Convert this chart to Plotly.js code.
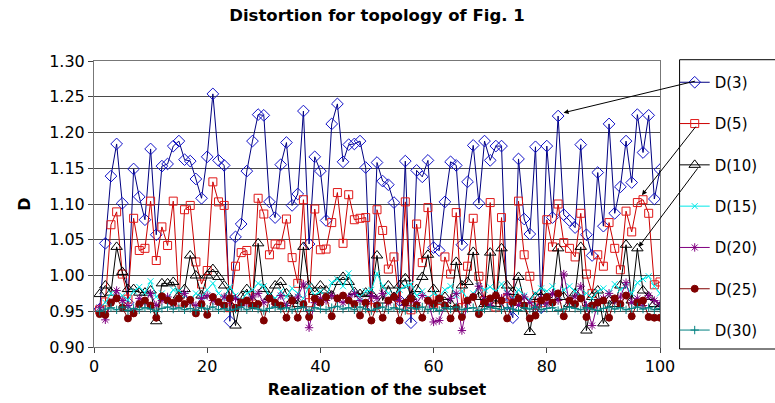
<!DOCTYPE html>
<html>
<head>
<meta charset="utf-8">
<script src="https://cdn.plot.ly/plotly-3.0.1.min.js"></script>
<style>html,body{margin:0;padding:0;background:#fff;}#chart{width:775px;height:403px;}</style>
</head>
<body>
<div id="chart"></div>
<script>
// Realization index 1..100
const realization = Array.from({length: 100}, (_, k) => k + 1);

const seriesNames = ["D(3)", "D(5)", "D(10)", "D(15)", "D(20)", "D(25)", "D(30)"];

const d3 = [0.953,1.045,1.139,1.184,1.101,0.962,1.149,1.110,1.078,1.177,
1.057,1.153,1.156,1.181,1.188,1.162,1.160,1.135,1.108,1.166,
1.254,1.161,1.154,0.936,1.054,1.072,1.146,1.188,1.225,1.224,
1.103,1.081,1.155,1.186,1.098,1.114,1.230,1.044,1.166,1.146,
1.077,1.212,1.240,1.159,1.183,1.184,1.188,1.151,0.958,1.158,
1.132,1.127,1.102,0.965,1.160,0.934,1.147,1.138,1.161,1.039,
1.035,1.103,1.159,1.154,1.043,1.131,1.182,1.101,1.188,1.161,
1.181,1.181,0.960,0.941,1.163,1.079,1.058,1.180,0.955,1.181,
1.081,1.223,1.085,1.077,1.067,1.183,1.057,1.028,1.144,1.069,
1.212,1.087,1.124,1.188,1.130,1.225,1.172,1.224,1.107,1.148];

const d5 = [0.952,0.963,1.071,1.089,1.002,0.967,1.080,1.035,1.038,1.104,
1.021,1.068,1.042,1.104,0.963,1.092,1.098,1.019,0.988,1.007,
1.131,1.103,1.098,0.955,1.013,1.032,1.035,0.960,1.108,1.086,
1.029,1.044,1.043,1.079,1.025,0.989,1.106,0.962,1.093,1.036,
1.037,1.074,1.116,1.045,1.113,1.078,1.080,1.081,0.955,1.092,
1.063,1.009,1.026,0.958,1.103,0.952,1.072,1.018,1.095,0.960,
0.965,1.026,1.002,1.088,0.955,1.013,1.080,0.999,0.965,1.102,
0.956,1.081,0.968,0.965,1.104,1.029,0.999,0.958,0.962,1.078,
1.040,1.100,1.046,1.038,1.026,1.087,1.002,0.975,1.029,1.013,
1.074,1.038,1.008,1.090,1.061,1.102,1.106,1.087,0.987,0.991];

const d10 = [0.974,0.986,0.976,1.040,1.005,0.981,0.981,0.976,0.976,0.979,
0.936,0.989,0.989,0.991,0.972,0.981,1.028,1.000,0.972,1.000,
1.009,0.998,0.986,0.975,0.930,0.970,0.981,0.965,1.045,0.981,
0.970,0.986,0.991,0.975,0.965,0.960,1.040,0.986,0.977,0.986,
0.979,0.972,0.991,0.998,0.991,0.977,0.974,0.976,0.974,1.028,
0.965,0.986,0.970,0.986,0.996,0.970,0.981,0.998,1.029,0.981,
0.965,0.970,0.960,1.019,0.986,0.991,1.033,0.970,0.960,1.032,
0.960,1.038,0.986,0.977,0.998,0.965,0.921,0.970,0.977,0.965,
0.970,1.038,0.970,0.960,0.975,1.040,0.923,0.970,0.979,0.933,
0.965,0.960,0.986,1.043,0.965,1.038,0.979,0.970,0.960,0.956];

const d15 = [0.955,0.962,0.975,0.968,0.972,0.966,0.978,0.984,0.976,0.992,
0.970,0.975,0.968,0.980,0.979,0.972,0.965,0.975,0.970,0.980,
0.989,0.975,0.968,0.984,0.972,0.965,0.975,0.980,0.989,0.985,
0.972,0.968,0.978,0.970,0.982,0.975,0.968,0.985,0.972,0.978,
0.970,0.990,0.995,0.985,1.003,0.975,0.970,0.978,0.980,1.003,
0.985,0.975,0.970,0.980,0.985,0.988,0.972,0.978,0.968,0.975,
0.970,0.980,0.985,0.972,0.978,0.968,0.975,0.985,0.980,0.984,
0.978,0.988,0.975,0.968,0.980,0.972,0.965,0.975,0.982,0.978,
0.985,0.972,0.980,0.985,0.978,0.970,0.975,0.968,0.978,0.982,
0.975,0.988,0.980,0.985,0.975,0.990,0.995,0.999,0.985,0.975];

const d20 = [0.955,0.938,0.962,0.979,0.965,0.958,0.950,0.968,0.962,0.975,
0.958,0.965,0.970,0.960,0.968,0.975,0.962,0.958,0.968,0.972,
0.965,0.960,0.970,0.965,0.968,0.958,0.962,0.970,0.975,0.962,
0.968,0.960,0.972,0.958,0.965,0.970,0.988,0.927,0.962,0.968,
0.965,0.972,0.968,0.962,0.970,0.975,0.965,0.960,0.972,0.968,
0.975,0.962,0.970,0.965,0.958,0.968,0.962,0.972,0.965,0.935,
0.937,0.958,0.968,0.975,0.923,0.962,0.970,0.985,0.965,0.958,
0.972,0.968,0.975,0.965,0.958,0.970,0.962,0.955,0.968,0.960,
0.975,0.965,1.002,0.962,0.970,0.985,0.958,0.930,0.962,0.968,
0.975,0.965,0.970,0.990,0.962,0.968,0.958,0.972,0.965,0.960];

const d25 = [0.946,0.945,0.962,0.968,0.955,0.940,0.947,0.960,0.965,0.958,
0.941,0.971,0.965,0.962,0.968,0.960,0.966,0.947,0.960,0.945,
0.970,0.963,0.958,0.968,0.955,0.962,0.965,0.958,0.960,0.937,
0.968,0.962,0.958,0.941,0.965,0.941,0.960,0.942,0.968,0.962,
0.970,0.943,0.968,0.972,0.965,0.960,0.944,0.962,0.937,0.958,
0.941,0.965,0.970,0.937,0.962,0.968,0.958,0.941,0.965,0.960,
0.968,0.958,0.940,0.955,0.942,0.965,0.970,0.946,0.962,0.968,
0.972,0.965,0.940,0.962,0.968,0.958,0.940,0.944,0.965,0.970,
0.962,0.975,0.943,0.965,0.960,0.968,0.942,0.958,0.962,0.965,
0.941,0.968,0.960,0.972,0.943,0.962,0.965,0.942,0.941,0.941];

const d30 = [0.950,0.953,0.955,0.952,0.956,0.951,0.954,0.952,0.955,0.953,
0.950,0.954,0.956,0.953,0.955,0.952,0.954,0.951,0.955,0.953,
0.956,0.952,0.954,0.951,0.953,0.956,0.952,0.955,0.953,0.951,
0.954,0.956,0.953,0.955,0.952,0.954,0.956,0.951,0.955,0.953,
0.952,0.955,0.957,0.953,0.955,0.952,0.956,0.953,0.951,0.954,
0.956,0.952,0.955,0.953,0.951,0.955,0.953,0.956,0.952,0.954,
0.951,0.955,0.953,0.956,0.952,0.954,0.955,0.951,0.953,0.956,
0.954,0.952,0.955,0.953,0.951,0.955,0.953,0.956,0.952,0.954,
0.955,0.951,0.953,0.956,0.954,0.952,0.955,0.953,0.951,0.954,
0.956,0.953,0.955,0.952,0.954,0.956,0.953,0.955,0.952,0.954];

const xTicks = [0, 20, 40, 60, 80, 100];
const yTicks = [0.90, 0.95, 1.00, 1.05, 1.10, 1.15, 1.20, 1.25, 1.30];

const styles = [
  {line: '#000080', marker: '#1010c8', symbol: 'diamond-open', size: 9},
  {line: '#cc0000', marker: '#e01818', symbol: 'square-open', size: 8},
  {line: '#000000', marker: '#000000', symbol: 'triangle-up-open', size: 10},
  {line: '#00e8e8', marker: '#00e8e8', symbol: 'x-thin-open', size: 6},
  {line: '#800080', marker: '#800080', symbol: 'asterisk-open', size: 7},
  {line: '#800000', marker: '#800000', symbol: 'circle', size: 7},
  {line: '#008080', marker: '#008080', symbol: 'cross-thin-open', size: 6}
];
const allSeries = [d3, d5, d10, d15, d20, d25, d30];

const traces = allSeries.map((vals, k) => ({
  x: realization,
  y: vals,
  name: seriesNames[k],
  legendgroup: 'g' + k,
  type: 'scatter',
  mode: 'lines+markers',
  line: {color: styles[k].line, width: 1},
  marker: {symbol: styles[k].symbol, size: styles[k].size, color: styles[k].marker,
           line: {color: styles[k].marker, width: 1}}
}));

const font = 'DejaVu Sans, Liberation Sans, Arial, sans-serif';

const layout = {
  width: 775, height: 403,
  margin: {l: 94, r: 103, t: 61, b: 56},
  paper_bgcolor: '#ffffff', plot_bgcolor: '#ffffff',
  showlegend: true,
  title: {text: 'Distortion for topology of Fig. 1', font: {family: font, size: 16.5, weight: 'bold', color: '#000'},
          x: 0.5, xref: 'paper', xanchor: 'center', y: 0.963, yref: 'container', yanchor: 'middle'},
  xaxis: {
    range: [0, 100], tickvals: xTicks, ticktext: xTicks.map(String),
    ticks: 'outside', ticklen: 5, tickcolor: '#444', showgrid: false, zeroline: false,
    showline: true, linecolor: '#777', mirror: true,
    tickfont: {family: font, size: 16, color: '#000'},
    title: {text: 'Realization of the subset', font: {family: font, size: 15.5, weight: 'bold', color: '#000'}, standoff: 8}
  },
  yaxis: {
    range: [0.90, 1.30], tickvals: yTicks, ticktext: yTicks.map(v => v.toFixed(2)),
    ticks: 'outside', ticklen: 5, tickcolor: '#444', showgrid: true, gridcolor: '#4a4a4a', gridwidth: 1,
    zeroline: false, showline: true, linecolor: '#777', mirror: true,
    tickfont: {family: font, size: 16, color: '#000'},
    title: {text: 'D', font: {family: font, size: 16, weight: 'bold', color: '#000'}, standoff: 14}
  },
  legend: {
    x: 1.026, xanchor: 'left', y: 0.9825, yanchor: 'top',
    font: {family: font, size: 15, color: '#000'},
    bgcolor: 'rgba(0,0,0,0)', borderwidth: 0, traceorder: 'grouped', tracegroupgap: 18.8, itemwidth: 30
  },
  shapes: [
    {type: 'line', xref: 'paper', yref: 'paper', x0: 1.0346, x1: 1.0346, y0: -0.007, y1: 1.0045, line: {color: '#000', width: 1}},
    {type: 'line', xref: 'paper', yref: 'paper', x0: 1.0346, x1: 1.5, y0: 1.0045, y1: 1.0045, line: {color: '#000', width: 1}},
    {type: 'line', xref: 'paper', yref: 'paper', x0: 1.0346, x1: 1.5, y0: -0.007, y1: -0.007, line: {color: '#000', width: 1}}
  ],
  annotations: [
    {x: 82.96, y: 1.2276, xref: 'x', yref: 'y', ax: 133, ay: -32, text: '', showarrow: true,
     arrowhead: 2, arrowsize: 1, arrowwidth: 1, arrowcolor: '#000'},
    {x: 96.81, y: 1.1124, xref: 'x', yref: 'y', ax: 55, ay: -70, text: '', showarrow: true,
     arrowhead: 2, arrowsize: 1, arrowwidth: 1, arrowcolor: '#000'},
    {x: 96.24, y: 1.040, xref: 'x', yref: 'y', ax: 60, ay: -80, text: '', showarrow: true,
     arrowhead: 2, arrowsize: 1, arrowwidth: 1, arrowcolor: '#000'}
  ]
};

Plotly.newPlot('chart', traces, layout, {displayModeBar: false, staticPlot: true});
</script>
</body>
</html>
